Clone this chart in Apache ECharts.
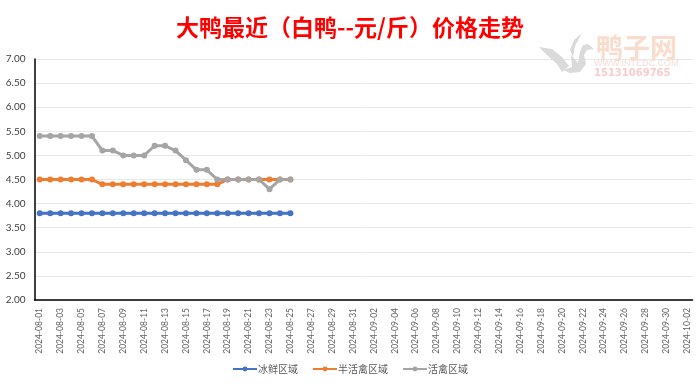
<!DOCTYPE html>
<html>
<head>
<meta charset="utf-8">
<style>
  html, body { margin: 0; padding: 0; background: #fff; }
  #chart { width: 700px; height: 386px; }
</style>
<script src="https://cdn.jsdelivr.net/npm/echarts@6/dist/echarts.min.js"></script>
</head>
<body>
<div id="chart"></div>
<script>
// 横轴日期
const dates = [
  '2024-08-01', '2024-08-02', '2024-08-03', '2024-08-04', '2024-08-05', '2024-08-06', '2024-08-07',
  '2024-08-08', '2024-08-09', '2024-08-10', '2024-08-11', '2024-08-12', '2024-08-13', '2024-08-14',
  '2024-08-15', '2024-08-16', '2024-08-17', '2024-08-18', '2024-08-19', '2024-08-20', '2024-08-21',
  '2024-08-22', '2024-08-23', '2024-08-24', '2024-08-25', '2024-08-26', '2024-08-27', '2024-08-28',
  '2024-08-29', '2024-08-30', '2024-08-31', '2024-09-01', '2024-09-02', '2024-09-03', '2024-09-04',
  '2024-09-05', '2024-09-06', '2024-09-07', '2024-09-08', '2024-09-09', '2024-09-10', '2024-09-11',
  '2024-09-12', '2024-09-13', '2024-09-14', '2024-09-15', '2024-09-16', '2024-09-17', '2024-09-18',
  '2024-09-19', '2024-09-20', '2024-09-21', '2024-09-22', '2024-09-23', '2024-09-24', '2024-09-25',
  '2024-09-26', '2024-09-27', '2024-09-28', '2024-09-29', '2024-09-30', '2024-10-01', '2024-10-02'
];
const frozen = [3.8, 3.8, 3.8, 3.8, 3.8, 3.8, 3.8, 3.8, 3.8, 3.8, 3.8, 3.8, 3.8, 3.8, 3.8, 3.8, 3.8, 3.8, 3.8, 3.8, 3.8, 3.8, 3.8, 3.8, 3.8];
const halfLive = [4.5, 4.5, 4.5, 4.5, 4.5, 4.5, 4.4, 4.4, 4.4, 4.4, 4.4, 4.4, 4.4, 4.4, 4.4, 4.4, 4.4, 4.4, 4.5, 4.5, 4.5, 4.5, 4.5, 4.5, 4.5];
const live = [5.4, 5.4, 5.4, 5.4, 5.4, 5.4, 5.1, 5.1, 5.0, 5.0, 5.0, 5.2, 5.2, 5.1, 4.9, 4.7, 4.7, 4.5, 4.5, 4.5, 4.5, 4.5, 4.3, 4.5, 4.5];

const fontName = 'Lato, "Noto Sans CJK SC", sans-serif';

const makeSeries = (name, data, color) => ({
  name: name,
  type: 'line',
  data: data,
  symbol: 'circle',
  symbolSize: 6,
  showSymbol: true,
  lineStyle: { color: color, width: 3 },
  itemStyle: { color: color }
});

// 水印里的鸭子轮廓
const birdWing = [[539, 47], [552, 49], [562, 57], [569, 66], [562, 72], [557, 64], [548, 56]];
const birdBody = [[571, 55], [578, 63], [580, 52], [583, 45], [588, 44], [594, 49], [587, 50], [584, 55], [586, 64], [580, 72], [570, 73], [563, 70], [572, 67]];
const birdCrest = [[582, 33], [574, 40], [570, 50], [573, 57], [575, 46]];

const watermarkShape = (points) => ({
  type: 'polygon', silent: true, z: 10,
  shape: { points: points },
  style: { fill: '#dadada' }
});

const myChart = echarts.init(document.getElementById('chart'));
myChart.setOption({
  animation: false,
  backgroundColor: '#fff',
  title: {
    text: '大鸭最近（白鸭--元/斤）价格走势',
    left: 'center',
    top: 11,
    textStyle: { color: '#ff0000', fontSize: 23, fontWeight: 'bold', fontFamily: '"Noto Sans CJK SC", sans-serif' }
  },
  legend: {
    data: ['冰鲜区域', '半活禽区域', '活禽区域'],
    bottom: 7,
    left: 'center',
    itemWidth: 24,
    itemHeight: 6,
    itemGap: 14,
    textStyle: { color: '#595959', fontSize: 10, fontFamily: '"Noto Sans CJK SC", sans-serif', padding: [0, 0, 0, -4] }
  },
  grid: { left: 34.5, right: 7.5, top: 59, bottom: 86 },
  xAxis: {
    type: 'category',
    data: dates,
    axisTick: { show: false },
    axisLine: { lineStyle: { color: '#000', width: 1.5 } },
    axisLabel: { interval: 1, rotate: 90, color: '#666666', fontSize: 8.5, margin: 8, fontFamily: fontName }
  },
  yAxis: {
    type: 'value',
    min: 2,
    max: 7,
    interval: 0.5,
    axisLine: { show: true, lineStyle: { color: '#000', width: 1.5 } },
    axisTick: { show: false },
    splitLine: { lineStyle: { color: '#e8e8e8', width: 1 } },
    axisLabel: { color: '#404040', fontSize: 10, margin: 9, formatter: v => v.toFixed(2), fontFamily: fontName }
  },
  series: [
    makeSeries('冰鲜区域', frozen, '#4472c4'),
    makeSeries('半活禽区域', halfLive, '#ed7d31'),
    makeSeries('活禽区域', live, '#a5a5a5')
  ],
  // 水印
  graphic: {
    elements: [
      watermarkShape(birdWing),
      watermarkShape(birdBody),
      watermarkShape(birdCrest),
      { type: 'text', silent: true, z: 10, left: 596, top: 34, style: { text: '鸭子网', fill: '#f9dccb', font: 'bold 27px "Noto Sans CJK SC"' } },
      { type: 'text', silent: true, z: 10, left: 594, top: 59, style: { text: 'WWW.INTEDC.COM', fill: '#f6dcd8', font: '9px "Liberation Sans"' } },
      { type: 'text', silent: true, z: 10, left: 594, top: 68, style: { text: '15131069765', fill: '#f8cccc', font: 'bold 10px "DejaVu Sans"' } }
    ]
  }
});
</script>
</body>
</html>
